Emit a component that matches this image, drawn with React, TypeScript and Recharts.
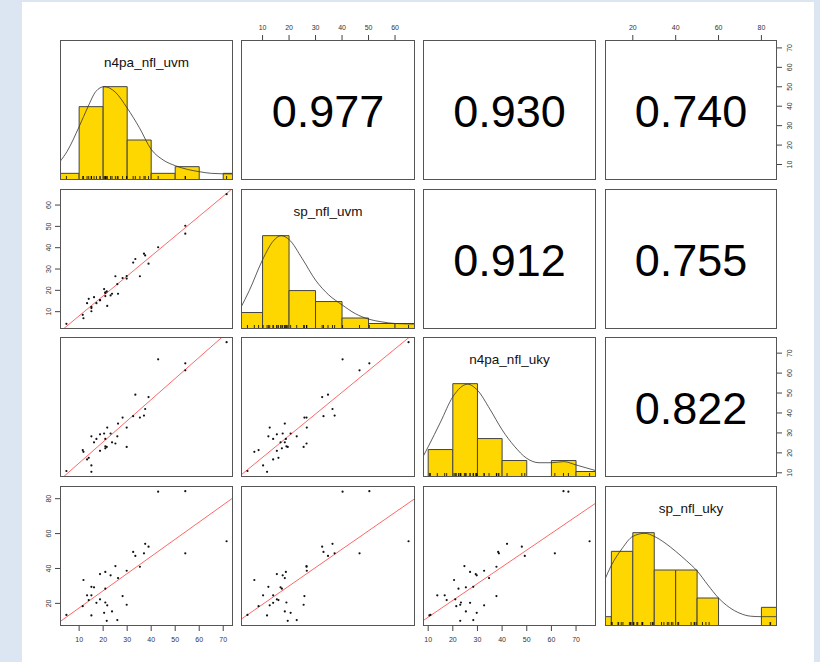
import React from 'react';
import { ComposedChart, XAxis, YAxis, Scatter, Line, ReferenceArea, ReferenceLine } from 'recharts';

// four variables, one value per subject (36 subjects)
const varNames = ['n4pa_nfl_uvm', 'sp_nfl_uvm', 'n4pa_nfl_uky', 'sp_nfl_uky'];

const n4paUvm = [4.7, 11.5, 11.8, 13.3, 14.0, 15.1, 15.1, 15.1, 16.2, 17.2, 18.7, 18.7, 20.4, 20.9, 20.9, 20.9, 21.5, 21.7, 23.1, 23.7, 25.1, 25.9, 26.2, 28.1, 29.8, 29.8, 32.5, 33.4, 35.3, 37.0, 37.5, 38.9, 42.9, 54.2, 54.2, 71.4];
const spUvm = [4.3, 8.5, 6.9, 14.0, 16.0, 12.2, 10.2, 11.7, 16.8, 14.0, 15.4, 15.4, 20.6, 18.8, 17.3, 19.0, 19.5, 12.7, 17.6, 18.4, 26.6, 22.9, 18.4, 25.8, 26.7, 25.5, 33.0, 34.7, 26.6, 37.2, 36.4, 32.5, 40.2, 50.3, 46.6, 65.1];
const n4paUky = [10.9, 21.4, 20.5, 16.7, 17.5, 28.3, 13.7, 10.5, 25.3, 27.0, 29.3, 21.0, 29.7, 27.0, 22.3, 23.3, 23.0, 32.7, 29.7, 25.3, 24.7, 28.3, 34.7, 37.7, 32.7, 23.0, 38.4, 49.2, 37.7, 38.7, 42.0, 48.0, 66.9, 64.9, 61.4, 75.5];
const spUky = [13.4, 18.4, 33.4, 24.6, 21.9, 29.5, 24.6, 13.1, 29.2, 20.3, 36.8, 22.3, 14.6, 38.0, 28.4, 20.5, 10.0, 18.9, 36.1, 15.4, 41.4, 10.4, 34.5, 24.2, 38.7, 19.2, 49.5, 47.2, 41.0, 48.7, 54.1, 52.5, 84.0, 84.3, 48.7, 55.6];

const ticks1 = [10, 20, 30, 40, 50, 60, 70];
const ticks2 = [10, 20, 30, 40, 50, 60];
const ticks3 = [10, 20, 30, 40, 50, 60, 70];
const ticks4 = [20, 40, 60, 80];

const breaks1 = [0, 10, 20, 30, 40, 50, 60, 70, 80];
const breaks2 = [0, 10, 20, 30, 40, 50, 60, 70];
const breaks3 = [0, 10, 20, 30, 40, 50, 60, 70, 80];
const breaks4 = [0, 10, 20, 30, 40, 50, 60, 70, 80, 90];

// density curves (in histogram count units)
const density1 = [
  { x: 2, y: 2.75 }, { x: 5, y: 4.3 }, { x: 10, y: 8.0 }, { x: 13.7, y: 11.0 }, { x: 17, y: 13.3 },
  { x: 20.4, y: 14.0 }, { x: 25, y: 13.2 }, { x: 30, y: 10.8 }, { x: 35, y: 7.9 }, { x: 40, y: 4.6 },
  { x: 45, y: 3.0 }, { x: 50, y: 2.15 }, { x: 55, y: 1.6 }, { x: 60, y: 1.25 }, { x: 65, y: 1.0 }, { x: 74, y: 0.9 },
];
const density2 = [
  { x: 1.8, y: 3.9 }, { x: 5, y: 7.0 }, { x: 10, y: 12.6 }, { x: 14, y: 16.0 }, { x: 17, y: 17.0 },
  { x: 20, y: 16.3 }, { x: 25, y: 12.8 }, { x: 30, y: 8.9 }, { x: 35, y: 6.2 }, { x: 40, y: 4.4 },
  { x: 45, y: 2.8 }, { x: 50, y: 1.8 }, { x: 55, y: 1.3 }, { x: 60, y: 1.0 }, { x: 67.5, y: 0.9 },
];
const density3 = [
  { x: 7.9, y: 3.7 }, { x: 10, y: 5.5 }, { x: 15, y: 10.0 }, { x: 20, y: 14.6 }, { x: 26, y: 16.9 },
  { x: 30, y: 15.8 }, { x: 35, y: 12.4 }, { x: 40, y: 8.6 }, { x: 45, y: 5.6 }, { x: 50, y: 3.4 },
  { x: 55, y: 2.6 }, { x: 60, y: 2.6 }, { x: 65, y: 2.8 }, { x: 70, y: 2.2 }, { x: 78.1, y: 1.15 },
];
const density4 = [
  { x: 7, y: 5.0 }, { x: 10, y: 6.5 }, { x: 15, y: 8.3 }, { x: 20, y: 9.6 }, { x: 25.7, y: 9.93 },
  { x: 30, y: 9.6 }, { x: 35, y: 8.9 }, { x: 40, y: 8.0 }, { x: 45, y: 7.0 }, { x: 50, y: 5.9 },
  { x: 55, y: 4.4 }, { x: 60, y: 3.0 }, { x: 65, y: 2.0 }, { x: 70, y: 1.36 }, { x: 75, y: 1.05 },
  { x: 80, y: 1.0 }, { x: 87.3, y: 1.0 },
];

// correlations printed in the upper panels, [row][col]
const corrText = [
  ['', '0.977', '0.930', '0.740'],
  ['', '', '0.912', '0.755'],
  ['', '', '', '0.822'],
];

const vars = [n4paUvm, spUvm, n4paUky, spUky];
const ticks = [ticks1, ticks2, ticks3, ticks4];
const breaks = [breaks1, breaks2, breaks3, breaks4];
const densities = [density1, density2, density3, density4];

const colX = [60, 241, 423, 605];
const colW = [173, 174, 173, 172];
const rowY = [40, 189, 337, 486];
const rowH = 140;
const PAD = 34;
const AX = 34;
const FONT = '"Liberation Sans", Arial, sans-serif';

function ext(v: number[]) {
  const lo = Math.min(...v), hi = Math.max(...v);
  const s = hi - lo;
  return [lo - 0.04 * s, hi + 0.04 * s];
}
const domains = vars.map(ext);

function histCounts(v: number[], br: number[]) {
  const out = [];
  for (let i = 0; i < br.length - 1; i++) {
    const n = v.filter((d) => d > br[i] && d <= br[i + 1]).length;
    out.push({ lo: br[i], hi: br[i + 1], n });
  }
  return out;
}

function fit(xs: number[], ys: number[]) {
  const mx = xs.reduce((a, b) => a + b, 0) / xs.length;
  const my = ys.reduce((a, b) => a + b, 0) / ys.length;
  let sxy = 0, sxx = 0;
  xs.forEach((x, i) => { sxy += (x - mx) * (ys[i] - my); sxx += (x - mx) * (x - mx); });
  const b = sxy / sxx;
  return { b, a: my - b * mx };
}

function VTick(props: any) {
  const { x, y, payload } = props;
  return (
    <text x={x} y={y} transform={`rotate(-90 ${x} ${y})`} textAnchor="middle" dy="0.35em" fontSize={7} fill="#333">
      {payload.value}
    </text>
  );
}

const dot = (p: any) => <circle cx={p.cx} cy={p.cy} r={1.1} fill="#111" />;
const rugMark = (p: any) => <line x1={p.cx} x2={p.cx} y1={p.cy} y2={p.cy - 4} stroke="#000" strokeWidth={0.8} />;
const noMark = () => <g />;

function Panel({ r, c }: { r: number; c: number }) {
  const showTop = r === 0 && c % 2 === 1;
  const showBottom = r === 3 && c % 2 === 0;
  const showLeft = c === 0 && r % 2 === 1;
  const showRight = c === 3 && r % 2 === 0;
  const w = colW[c];
  const isDiag = r === c;
  const xd = domains[c];

  let yd = domains[r];
  let bins: { lo: number; hi: number; n: number }[] = [];
  if (isDiag) {
    bins = histCounts(vars[c], breaks[c]);
    yd = [0, 1.5 * Math.max(...bins.map((b) => b.n))];
  }
  const pts = vars[c].map((v, i) => ({ x: v, y: vars[r][i] }));
  const line = !isDiag && r > c ? fit(vars[c], vars[r]) : null;

  return (
    <div style={{ position: 'absolute', left: colX[c] - PAD, top: rowY[r] - PAD }}>
      <ComposedChart
        width={w + 2 * PAD}
        height={rowH + 2 * PAD}
        margin={{
          top: PAD - (showTop ? AX : 0),
          bottom: PAD - (showBottom ? AX : 0),
          left: PAD - (showLeft ? AX : 0),
          right: PAD - (showRight ? AX : 0),
        }}
      >
        <XAxis
          type="number"
          dataKey="x"
          domain={xd}
          allowDataOverflow
          ticks={ticks[c]}
          interval={0}
          orientation={showTop ? 'top' : 'bottom'}
          hide={!showTop && !showBottom}
          height={AX}
          axisLine={false}
          tickSize={5}
          tickMargin={showTop ? 5 : 6}
          tickLine={{ stroke: '#444' }}
          tick={{ fontSize: 7, fill: '#333' }}
        />
        <YAxis
          type="number"
          dataKey="y"
          domain={yd}
          allowDataOverflow
          ticks={isDiag ? undefined : ticks[r]}
          interval={0}
          orientation={showRight ? 'right' : 'left'}
          hide={!showLeft && !showRight}
          width={AX}
          axisLine={false}
          tickSize={5}
          tickMargin={showRight ? 8 : 6}
          tickLine={{ stroke: '#444' }}
          tick={<VTick />}
        />
        {isDiag &&
          bins
            .filter((b) => b.n > 0)
            .map((b) => (
              <ReferenceArea
                key={b.lo}
                x1={b.lo}
                x2={b.hi}
                y1={0}
                y2={b.n}
                fill="#FFD700"
                fillOpacity={1}
                stroke="#444"
                strokeWidth={1}
                ifOverflow="hidden"
              />
            ))}
        {isDiag && (
          <Line data={densities[c]} dataKey="y" type="monotone" dot={false} stroke="#333" strokeWidth={0.8} isAnimationActive={false} />
        )}
        {isDiag && (
          <Scatter data={vars[c].map((v) => ({ x: v, y: 0 }))} shape={rugMark} isAnimationActive={false} />
        )}
        {!isDiag && r > c && <Scatter data={pts} shape={dot} isAnimationActive={false} />}
        {!isDiag && r < c && <Scatter data={pts} shape={noMark} isAnimationActive={false} />}
        {line && (
          <ReferenceLine
            segment={[
              { x: xd[0], y: line.a + line.b * xd[0] },
              { x: xd[1], y: line.a + line.b * xd[1] },
            ]}
            stroke="#ff4040"
            strokeWidth={0.8}
            ifOverflow="hidden"
          />
        )}
      </ComposedChart>
      <svg
        width={w}
        height={rowH}
        style={{ position: 'absolute', left: PAD, top: PAD, pointerEvents: 'none', overflow: 'visible' }}
      >
        <rect x={0.5} y={0.5} width={w - 1} height={rowH - 1} fill="none" stroke="#555" strokeWidth={1} />
        {isDiag && (
          <text x={w / 2} y={27} textAnchor="middle" fontSize={13.5} fill="#111">
            {varNames[c]}
          </text>
        )}
        {r < c && (
          <text x={w / 2} y={87} textAnchor="middle" fontSize={45} fill="#000">
            {corrText[r][c]}
          </text>
        )}
      </svg>
    </div>
  );
}

export default function App() {
  const cells = [];
  for (let r = 0; r < 4; r++) for (let c = 0; c < 4; c++) cells.push(<Panel key={`${r}-${c}`} r={r} c={c} />);
  return (
    <div style={{ position: 'absolute', left: 0, top: 0, width: 820, height: 662, background: '#dce5f2', fontFamily: FONT, overflow: 'hidden' }}>
      <div style={{ position: 'absolute', left: 22, top: 2, width: 792, height: 660, background: '#fff' }} />
      {cells}
    </div>
  );
}
